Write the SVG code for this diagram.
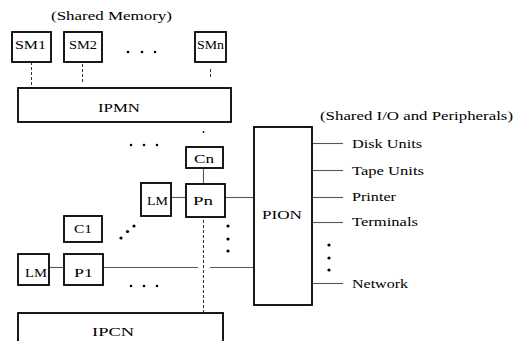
<svg xmlns="http://www.w3.org/2000/svg" width="526" height="341" viewBox="0 0 526 341">
  <style>
    .box { fill: #fff; stroke: #000; stroke-width: 1.8; }
    .lbl { font-family: "Times New Roman", "Liberation Serif", Tinos, Times, serif; font-size: 13.5px; fill: #000; }
    .wire { stroke: #555; stroke-width: 1.1; fill: none; }
    .dash { stroke: #333; stroke-width: 1; stroke-dasharray: 3 2; fill: none; }
    .dot { fill: #000; }
  </style>
  <rect width="526" height="341" fill="#fff"/>

  <!-- captions -->
  <text class="lbl" x="51" y="20" textLength="121" lengthAdjust="spacingAndGlyphs">(Shared Memory)</text>
  <text class="lbl" x="320" y="120" textLength="193" lengthAdjust="spacingAndGlyphs">(Shared I/O and Peripherals)</text>

  <!-- connectors -->
  <g id="connectors">
    <line class="dash" x1="31.5" y1="62" x2="31.5" y2="88"/>
    <line class="dash" x1="82.5" y1="64" x2="82.5" y2="84"/>
    <line class="dash" x1="210.5" y1="69" x2="210.5" y2="79"/>
    <line class="wire" x1="203.5" y1="168" x2="203.5" y2="184"/>
    <line class="wire" x1="171" y1="197.5" x2="186" y2="197.5"/>
    <line class="wire" x1="225" y1="197.5" x2="254" y2="197.5"/>
    <line class="wire" x1="49" y1="267.5" x2="64" y2="267.5"/>
    <line class="wire" x1="103" y1="267.5" x2="198" y2="267.5"/>
    <line class="wire" x1="210" y1="267.5" x2="254" y2="267.5"/>
    <line class="dash" x1="203.5" y1="220" x2="203.5" y2="312" stroke-dasharray="14 2"/>
    <line class="wire" x1="312" y1="143.5" x2="343" y2="143.5"/>
    <line class="wire" x1="312" y1="170.5" x2="343" y2="170.5"/>
    <line class="wire" x1="312" y1="197.5" x2="343" y2="197.5"/>
    <line class="wire" x1="312" y1="222.5" x2="343" y2="222.5" stroke="#222"/>
    <line class="wire" x1="312" y1="283.5" x2="343" y2="283.5" stroke="#111"/>
  </g>

  <!-- ellipsis dots -->
  <g id="ellipses">
    <circle class="dot" cx="128" cy="52" r="1.3"/>
    <circle class="dot" cx="142" cy="52" r="1.3"/>
    <circle class="dot" cx="155" cy="52" r="1.3"/>
    <circle class="dot" cx="203.5" cy="132" r="0.9"/>
    <circle class="dot" cx="131" cy="145" r="1.3"/>
    <circle class="dot" cx="144" cy="145" r="1.3"/>
    <circle class="dot" cx="157" cy="145" r="1.3"/>
    <circle class="dot" cx="131" cy="286" r="1.3"/>
    <circle class="dot" cx="144" cy="286" r="1.3"/>
    <circle class="dot" cx="157" cy="286" r="1.3"/>
    <circle class="dot" cx="121" cy="238" r="1.6"/>
    <circle class="dot" cx="127.5" cy="231.5" r="1.6"/>
    <circle class="dot" cx="134" cy="226" r="1.6"/>
    <circle class="dot" cx="228" cy="226" r="1.6"/>
    <circle class="dot" cx="228" cy="239" r="1.6"/>
    <circle class="dot" cx="228" cy="251" r="1.6"/>
    <circle class="dot" cx="329" cy="245" r="1.6"/>
    <circle class="dot" cx="329" cy="258" r="1.6"/>
    <circle class="dot" cx="329" cy="270" r="1.6"/>
  </g>

  <!-- shared memory modules -->
  <g id="SM1"><rect class="box" x="12" y="32" width="39" height="30"/><text class="lbl" x="15" y="49" textLength="31" lengthAdjust="spacingAndGlyphs">SM1</text></g>
  <g id="SM2"><rect class="box" x="64" y="32" width="38" height="30"/><text class="lbl" x="69" y="49" textLength="28" lengthAdjust="spacingAndGlyphs">SM2</text></g>
  <g id="SMn"><rect class="box" x="195" y="32" width="31" height="30"/><text class="lbl" x="197" y="49" textLength="27" lengthAdjust="spacingAndGlyphs">SMn</text></g>

  <!-- processor-memory network -->
  <g id="IPMN"><rect class="box" x="18" y="88" width="213" height="34"/><text class="lbl" x="98" y="112" textLength="42" lengthAdjust="spacingAndGlyphs">IPMN</text></g>

  <!-- processing elements -->
  <g id="Cn"><rect class="box" x="186" y="147" width="37" height="21"/><text class="lbl" x="194" y="163" textLength="20" lengthAdjust="spacingAndGlyphs">Cn</text></g>
  <g id="Pn"><rect class="box" x="186" y="184" width="39" height="33"/><text class="lbl" x="193" y="205" textLength="20" lengthAdjust="spacingAndGlyphs">Pn</text></g>
  <g id="LMn"><rect class="box" x="141" y="183" width="30" height="33"/><text class="lbl" x="147" y="205" textLength="21" lengthAdjust="spacingAndGlyphs">LM</text></g>
  <g id="C1"><rect class="box" x="64" y="216" width="38" height="26"/><text class="lbl" x="74" y="233" textLength="18" lengthAdjust="spacingAndGlyphs">C1</text></g>
  <g id="LM1"><rect class="box" x="18" y="254" width="31" height="31"/><text class="lbl" x="25" y="277" textLength="22" lengthAdjust="spacingAndGlyphs">LM</text></g>
  <g id="P1"><rect class="box" x="64" y="254" width="39" height="31"/><text class="lbl" x="74" y="277" textLength="19" lengthAdjust="spacingAndGlyphs">P1</text></g>

  <!-- processor-communication network -->
  <g id="IPCN"><rect class="box" x="18" y="313" width="205" height="40"/><text class="lbl" x="92" y="336" textLength="42" lengthAdjust="spacingAndGlyphs">IPCN</text></g>

  <!-- processor-I/O network -->
  <g id="PION"><rect class="box" x="254" y="127" width="58" height="178"/><text class="lbl" x="262" y="219" textLength="40" lengthAdjust="spacingAndGlyphs">PION</text></g>

  <!-- peripherals -->
  <g id="peripherals">
    <text class="lbl" x="352" y="148" textLength="70" lengthAdjust="spacingAndGlyphs">Disk Units</text>
    <text class="lbl" x="352" y="175" textLength="72" lengthAdjust="spacingAndGlyphs">Tape Units</text>
    <text class="lbl" x="352" y="201" textLength="44" lengthAdjust="spacingAndGlyphs">Printer</text>
    <text class="lbl" x="352" y="226" textLength="66" lengthAdjust="spacingAndGlyphs">Terminals</text>
    <text class="lbl" x="352" y="288" textLength="56" lengthAdjust="spacingAndGlyphs">Network</text>
  </g>
</svg>
